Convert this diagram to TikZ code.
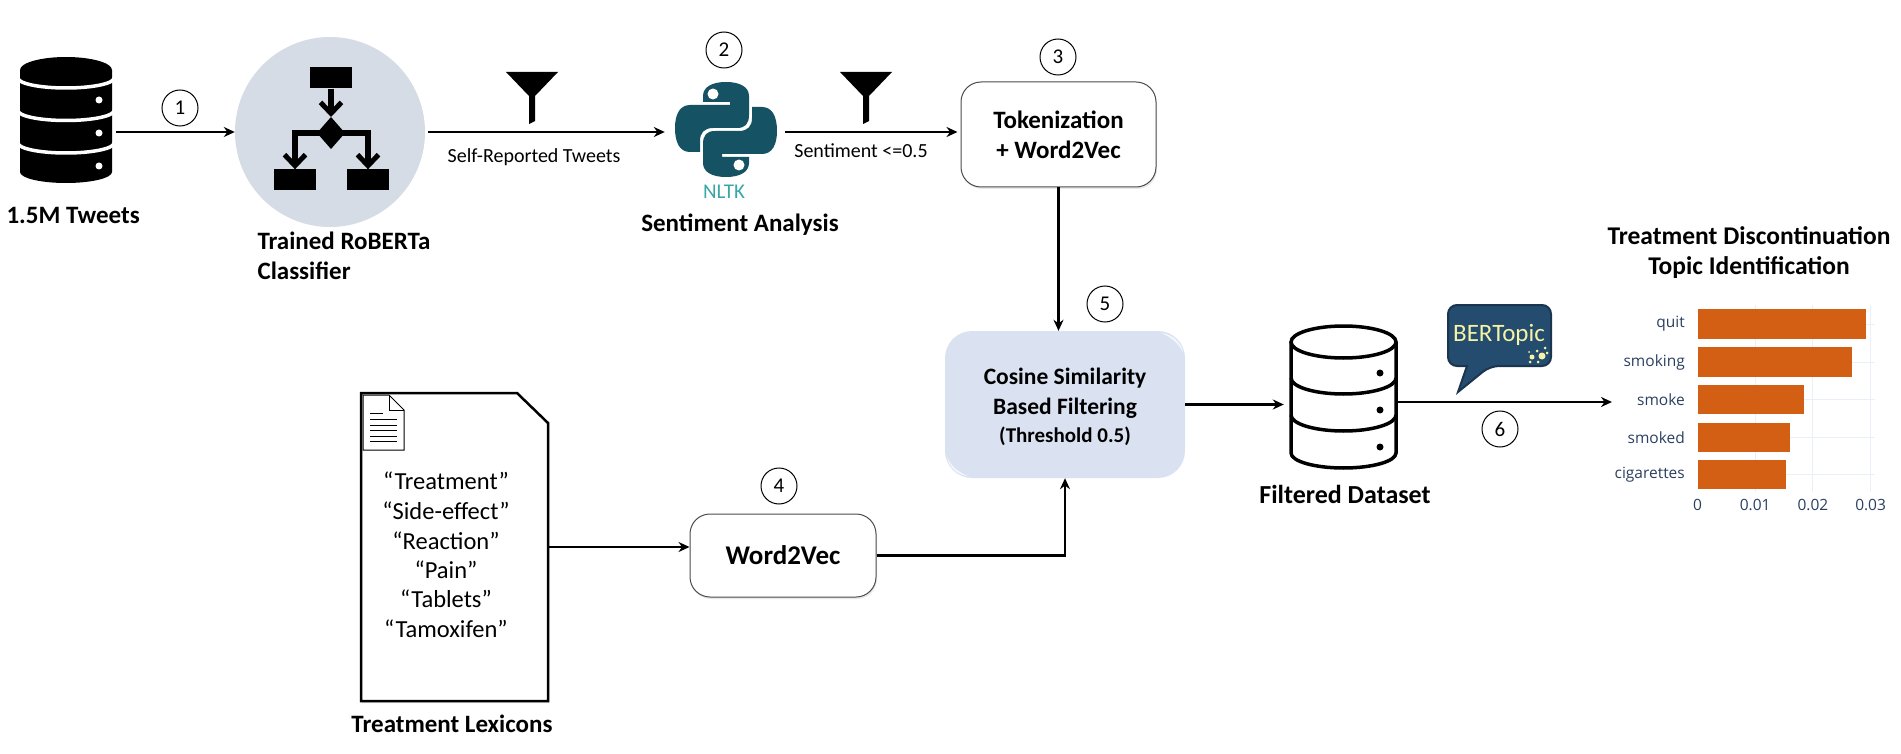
\documentclass[tikz,border=0pt]{standalone}
\usepackage{fontspec}
\setmainfont{Carlito}
\newfontfamily\chartfont{Open Sans}
\usetikzlibrary{arrows.meta,shadows}
\definecolor{circlefill}{HTML}{D6DCE5}
\definecolor{cosinefill}{HTML}{DAE2F2}
\definecolor{pythonteal}{HTML}{155263}
\definecolor{nltkteal}{HTML}{3AA6A6}
\definecolor{bubblefill}{HTML}{234C6E}
\definecolor{bubbleedge}{HTML}{1B3550}
\definecolor{bubbletext}{HTML}{F6F2A6}
\definecolor{barorange}{HTML}{D35F14}
\definecolor{plotink}{HTML}{2A3F5F}
\definecolor{plotgrid}{HTML}{EBF0F8}
\tikzset{
	flow/.style={->, line width=2.4pt},
	stepmark/.style={draw, circle, line width=1pt, minimum size=36pt, inner sep=0pt, font=\fontsize{21}{25}\selectfont},
	iconbox/.style={minimum width=#1, inner sep=0pt},
	headline/.style={font=\fontsize{25}{30}\selectfont\bfseries, align=center},
	edgenote/.style={font=\fontsize{20}{24}\selectfont},
	roundbox/.style={draw=black!70, line width=1pt, rounded corners=20pt, fill=white, align=center, inner sep=0pt, drop shadow={opacity=.18, shadow xshift=1pt, shadow yshift=-2pt}},
	iconarrow/.style={-{Straight Barb[length=11pt, width=21pt, line width=5pt]}, line width=5.5pt},
	funnel/.pic={
		\fill (-26,0) -- (26,0) -- (3,24) -- (3,49) -- (-3,52) -- (-3,24) -- cycle;
	},
	word/.style={font=\fontsize{24.5}{24}\selectfont}
}
\begin{document}
\begin{tikzpicture}[x=1pt, y=-1pt, >={Stealth[length=11pt, width=10pt]}]
	\useasboundingbox (0,0) rectangle (1901,754);

	\node[iconbox=92pt, minimum height=126pt] (tweetsdb) at (66,120) {};
	\fill (20,70) -- (20,172) arc[start angle=180, end angle=360, x radius=46pt, y radius=11pt]
		-- (112,70) arc[start angle=0, end angle=180, x radius=46pt, y radius=13pt] -- cycle;
	\foreach \ypos in {78,110.5,143}
		\draw[white, line width=3.5pt] (18,\ypos) arc[start angle=180, end angle=360, x radius=48pt, y radius=10pt];
	\foreach \ypos in {100,133,166}
		\fill[white] (99,\ypos) circle (3.5pt);
	\node[headline, anchor=west] (tweetslabel) at (3,215) {1.5M Tweets};

	\node[circle, fill=circlefill, minimum size=190pt, inner sep=0pt] (classifier) at (330,132) {};
	\node[fill, minimum width=42pt, minimum height=21pt, inner sep=0pt] (icontop) at (331,78) {};
	\node[fill, minimum width=42pt, minimum height=21pt, inner sep=0pt] (iconleft) at (295,180) {};
	\node[fill, minimum width=42pt, minimum height=21pt, inner sep=0pt] (iconright) at (368,180) {};
	\fill (331,117) coordinate (icondiamond) -- (345,133) -- (331,149) -- (317,133) -- cycle;
	\draw[iconarrow] (icontop.south) -- (icondiamond);
	\draw[iconarrow] (331,133) -| (iconleft.north);
	\draw[iconarrow] (331,133) -| (iconright.north);
	\node[headline, align=left, anchor=north west] (classifierlabel) at (254,228) {Trained RoBERTa\\Classifier};

	\node[iconbox=102pt, minimum height=100pt] (pylogo) at (726,132) {};
	\foreach \turn in {0,180}
		\fill[pythonteal, rotate around={\turn:(726,129.5)}] (749,96)
			-- (749,115) .. controls (749,124) and (745,128) .. (737,128)
			-- (713,128) .. controls (704,128) and (700,133) .. (700,141)
			-- (700,152) -- (690,152) .. controls (680,152) and (675,143) .. (675,128)
			.. controls (675,114) and (680,105) .. (690,105)
			-- (730,105) -- (730,102) -- (703,102) -- (703,96)
			.. controls (703,87) and (712,82) .. (726,82)
			.. controls (740,82) and (749,87) .. (749,96) -- cycle;
	\fill[white] (713,94) circle (5.5pt);
	\fill[white] (739,165) circle (5.5pt);
	\node[font=\fontsize{21}{25}\selectfont, text=nltkteal] (nltklabel) at (724,192) {NLTK};
	\node[headline] (sentimentlabel) at (740,225) {Sentiment Analysis};

	\node[roundbox, minimum width=195pt, minimum height=105pt, font=\fontsize{25}{30}\selectfont\bfseries] (tokenbox) at (1058.5,134.5) {Tokenization\\+ Word2Vec};
	\node[roundbox, minimum width=186pt, minimum height=83pt, font=\fontsize{27}{30}\selectfont\bfseries] (wordbox) at (783,555.5) {Word2Vec};
	\node[fill=cosinefill, rounded corners=27pt, minimum width=240pt, minimum height=147pt, inner sep=0pt] (cosinebox) at (1065,404.5) {};
	\fill[white, opacity=.7] (1161,333) .. controls (1172,334) and (1181,342) .. (1183,352) .. controls (1178,343) and (1171,337) .. (1161,333) -- cycle;
	\fill[white, opacity=.7] (947,457) .. controls (949,467) and (957,475) .. (968,476) .. controls (958,472) and (951,466) .. (947,457) -- cycle;
	\node[font=\fontsize{23.5}{30}\selectfont\bfseries, align=center] (cosinelabel) at (1065,393) {Cosine Similarity\\Based Filtering};
	\node[font=\fontsize{21}{24}\selectfont\bfseries] (thresholdlabel) at (1065,436) {(Threshold 0.5)};

	\filldraw[fill=white, line width=2.5pt, drop shadow={opacity=.18, shadow xshift=1pt, shadow yshift=-2pt}] (361,393) -- (517,393) -- (548,423) -- (548,701) -- (361,701) -- cycle;
	\node[iconbox=187pt, minimum height=308pt] (lexdoc) at (454.5,547) {};
	\filldraw[fill=white, line width=1pt] (363,395) -- (389,395) -- (404,410) -- (404,450) -- (363,450) -- cycle;
	\draw[line width=1pt] (389,395) -- (389,410) -- (404,410);
	\draw[line width=1pt] (370,413) -- (383,413);
	\foreach \ypos in {419,425,430,436,441}
		\draw[line width=1pt] (370,\ypos) -- (397,\ypos);
	\foreach \term/\ypos in {Treatment/481,Side-effect/511,Reaction/541,Pain/570,Tablets/599,Tamoxifen/629}
		\node[word] (term-\term) at (446,\ypos) {“\term”};
	\node[headline] (lexiconlabel) at (452,724) {Treatment Lexicons};

	\node[iconbox=105pt, minimum height=142pt] (filtereddb) at (1343.5,397) {};
	\draw[line width=3.5pt] (1291,342) -- (1291,453) arc[start angle=180, end angle=360, x radius=52.5pt, y radius=15pt] -- (1396,342);
	\draw[line width=3.5pt] (1343.5,342) ellipse [x radius=52.5pt, y radius=16pt];
	\foreach \ypos in {378,415}
		\draw[line width=3.5pt] (1291,\ypos) arc[start angle=180, end angle=360, x radius=52.5pt, y radius=16pt];
	\foreach \ypos in {373,410,447}
		\fill (1380,\ypos) circle (3.5pt);
	\node[headline, font=\fontsize{26}{30}\selectfont\bfseries] (filteredlabel) at (1345,494) {Filtered Dataset};

	\filldraw[fill=bubblefill, draw=bubbleedge, line width=2pt, rounded corners=9pt] (1448,305) -- (1551,305) -- (1551,366) -- (1490,366) [sharp corners] -- (1458,392) -- (1467,366) [rounded corners=9pt] -- (1448,366) -- cycle;
	\node[font=\fontsize{25}{30}\selectfont, text=bubbletext] (bertlabel) at (1499,335) {BERTopic};
	\foreach \xpos/\ypos/\rad in {1542/356/3.5,1537/351/1.5,1545/348/1.5,1532/357/2.5,1529/352/1,1530/362/1.5,1538/362/1.5,1547/353/1.5}
		\fill[bubbletext] (\xpos,\ypos) circle (\rad pt);

	\coordinate (chartin) at (1612,402);

	\foreach \tick in {0.01,0.02,0.03}
		\draw[plotgrid, line width=1pt] ({1697.5+\tick*5770},305) -- ({1697.5+\tick*5770},492);
	\foreach \word/\xend/\ypos in {quit/1866/324,smoking/1851.5/362,smoke/1804/399.5,smoked/1790/437.5,cigarettes/1785.5/474.5}{
		\draw[plotgrid, line width=1pt] (1697.5,\ypos) -- (1875,\ypos);
		\fill[barorange] (1697.5,\ypos-14.8) rectangle (\xend,\ypos+14.8);
		\node[anchor=east, inner sep=0pt, text=plotink, font=\chartfont\fontsize{15.5}{18}\selectfont] (topic-\word) at (1685,\ypos) {\word};
	}
	\foreach \tick/\name in {0/zero,0.01/one,0.02/two,0.03/three}
		\node[text=plotink, font=\chartfont\fontsize{15.5}{18}\selectfont] (tick-\name) at ({1697.5+\tick*5770},505) {\tick};
	\node[headline, font=\fontsize{25.5}{30}\selectfont\bfseries] (chartlabel) at (1749,253) {Treatment Discontinuation\\Topic Identification};

	\pic (funnelone) at (532,72) {funnel};
	\pic (funneltwo) at (866,72) {funnel};
	\node[edgenote] (selfreported) at (534,157) {Self-Reported Tweets};
	\node[edgenote] (sentimentnote) at (861,151) {Sentiment <=0.5};

	\node[stepmark] (markone) at (180,108) {1};
	\node[stepmark] (marktwo) at (724,50) {2};
	\node[stepmark] (markthree) at (1058,57) {3};
	\node[stepmark] (markfour) at (779,486) {4};
	\node[stepmark] (markfive) at (1105,304) {5};
	\node[stepmark] (marksix) at (1500,429) {6};

	\draw[flow, shorten <=4pt] (tweetsdb.east |- classifier.west) -- (classifier.west);
	\draw[flow, shorten <=3pt, shorten >=10pt] (classifier.east) -- (pylogo.west);
	\draw[flow, shorten <=8pt, shorten >=3pt] (pylogo.east) -- (pylogo.east -| tokenbox.west);
	\draw[flow] (tokenbox.south) -- (tokenbox.south |- cosinebox.north);
	\draw[flow] (lexdoc.east) -- (lexdoc.east -| wordbox.west);
	\draw[flow] (wordbox.east) -| (cosinebox.south);
	\draw[flow, shorten >=7pt] (cosinebox.east) -- (cosinebox.east -| filtereddb.west);
	\draw[flow] (filtereddb.east |- chartin) -- (chartin);
\end{tikzpicture}
\end{document}
